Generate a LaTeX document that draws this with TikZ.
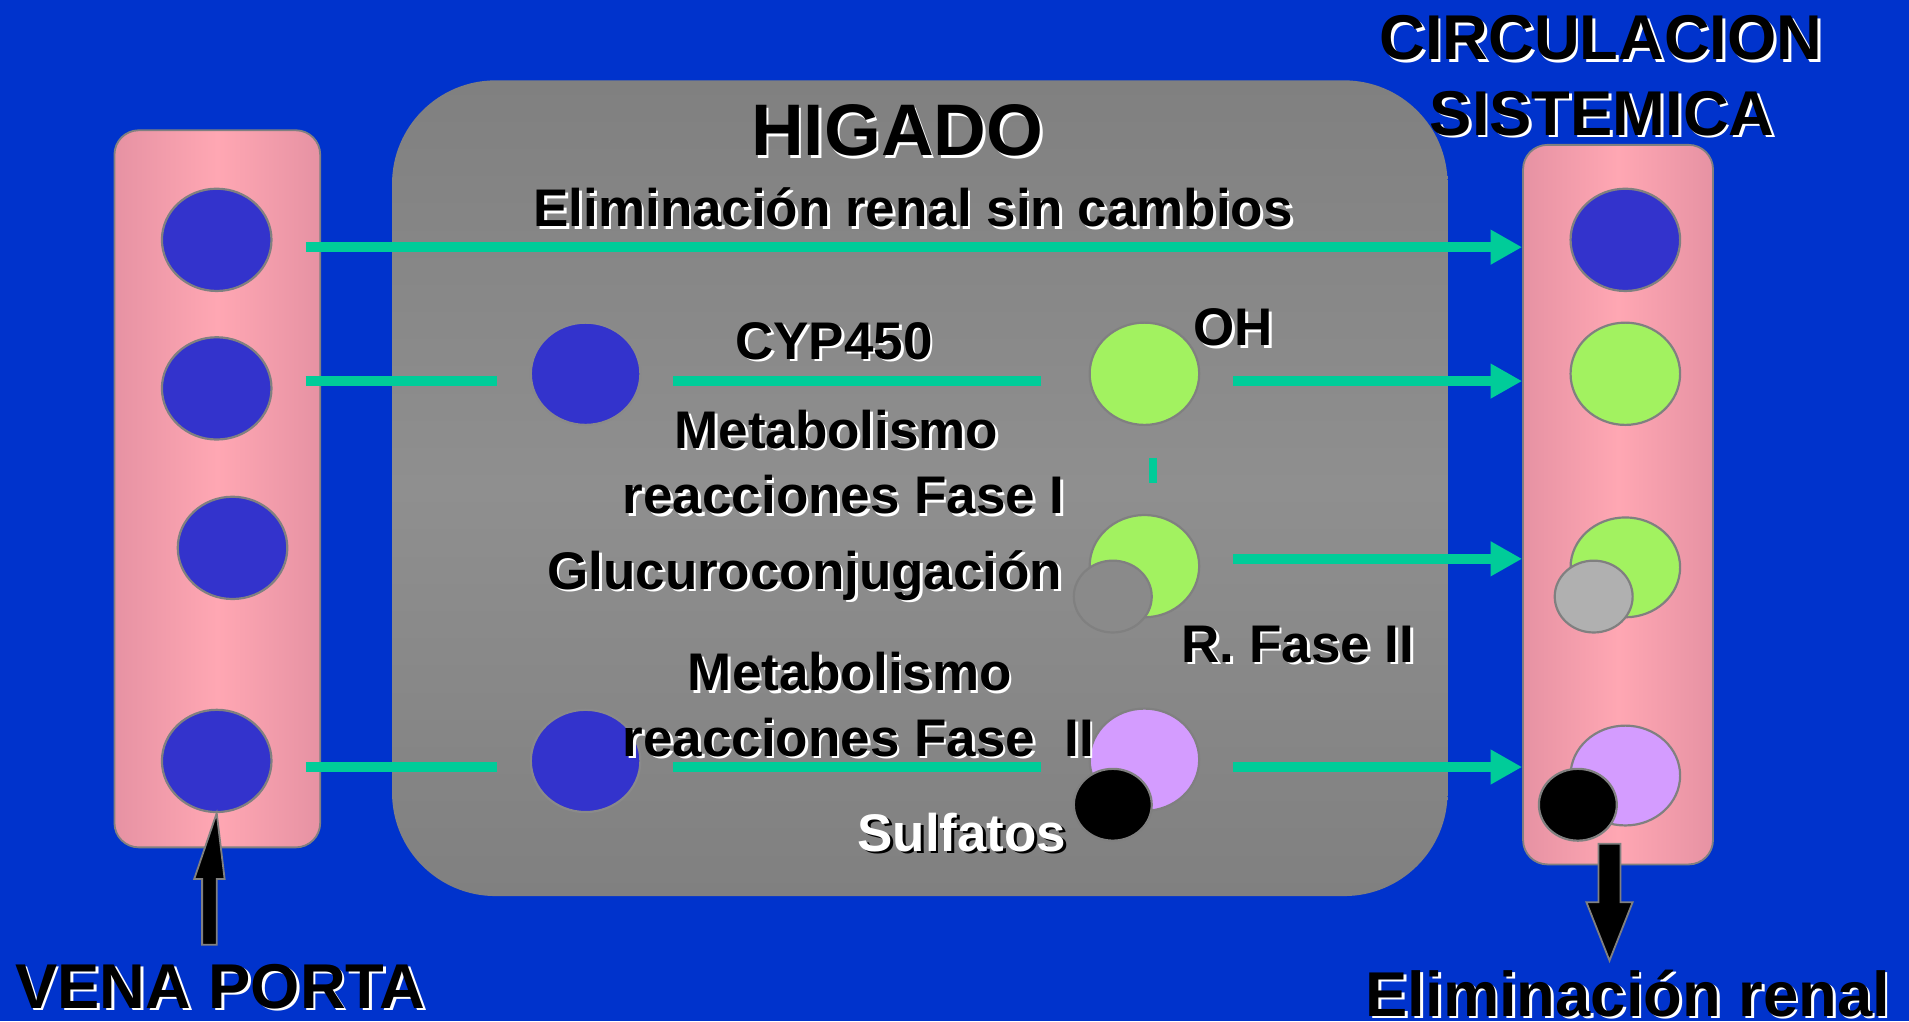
\documentclass[tikz,border=0pt]{standalone}
\usepackage{fontspec}
\setmainfont{Liberation Sans}
\usetikzlibrary{shapes.geometric,arrows.meta}
\definecolor{bgblue}{RGB}{0,51,204}
\definecolor{cblue}{RGB}{51,51,204}
\definecolor{cgreen}{RGB}{162,242,96}
\definecolor{cviolet}{RGB}{212,156,255}
\definecolor{clgray}{RGB}{176,176,176}
\definecolor{cdgray}{RGB}{138,138,138}
\definecolor{flowteal}{RGB}{0,204,153}
\definecolor{pinkedge}{RGB}{230,146,163}
\definecolor{pinkmid}{RGB}{255,167,179}
\definecolor{livgray}{RGB}{128,128,128}
\definecolor{livmid}{RGB}{143,143,143}
\definecolor{olgray}{RGB}{128,128,128}
\newcommand\midf{\fontsize{43.5}{50}\selectfont\bfseries}
\newcommand\bigf{\fontsize{52}{60}\selectfont\bfseries}
\newcommand\higf{\fontsize{60}{70}\selectfont\bfseries}
\newcommand{\stxt}[5][\midf]{%
  \node[txt, font=#1, text=white] at (#3+2.2,#4+2.2) {#5};
  \node[txt, font=#1] (#2) at (#3,#4) {#5};}
\begin{document}
\begin{tikzpicture}[x=1pt,y=-1pt,
  blob/.style={ellipse, draw=olgray, line width=1.8pt, inner sep=0pt, minimum width=90pt, minimum height=84pt},
  smallblob/.style={ellipse, draw=olgray, line width=1.8pt, inner sep=0pt, minimum width=64pt, minimum height=59pt},
  pinkbox/.style={rectangle, rounded corners=20pt, draw=olgray, line width=1.5pt, left color=pinkedge, right color=pinkedge, middle color=pinkmid, inner sep=0pt},
  liverbox/.style={rectangle, rounded corners=85pt, top color=livgray, bottom color=livgray, middle color=livmid, inner sep=0pt},
  flow/.style={draw=flowteal, line width=8.5pt},
  flowarrow/.style={flow, -{Triangle[length=26pt,width=27pt]}},
  bigarrow/.style={fill=black, draw=olgray, line width=1.5pt},
  txt/.style={anchor=base, inner sep=0pt, text=black}
]
\useasboundingbox (0,0) rectangle (1568,839);
\fill[bgblue] (0,0) rectangle (1568,839);

% boxes
\node[pinkbox, minimum width=169pt, minimum height=589pt] (lb) at (178.5,401.5) {};
\node[liverbox, minimum width=867pt, minimum height=670pt] (liv) at (755.5,401) {};
\node[pinkbox, minimum width=156pt, minimum height=591pt] (rb) at (1329,414.5) {};

% left circles
\node[blob, fill=cblue] (l1) at (178,197) {};
\node[blob, fill=cblue] (l2) at (178,319) {};
\node[blob, fill=cblue] (l3) at (191,450) {};
\node[blob, fill=cblue] (l4) at (178,625) {};

% liver circles
\node[blob, fill=cblue, draw=cdgray] (m1) at (481,307) {};
\node[blob, fill=cgreen] (g1) at (940,307) {};
\node[blob, fill=cgreen] (g2) at (940,465) {};
\node[smallblob, fill=cdgray] (q2) at (914,490) {};
\node[blob, fill=cblue, draw=cdgray] (m2) at (481,625) {};
\node[blob, fill=cviolet] (v2) at (940,624) {};
\node[smallblob, fill=black] (k2) at (914,661) {};

% right circles
\node[blob, fill=cblue] (r1) at (1335,197) {};
\node[blob, fill=cgreen] (r2) at (1335,307) {};
\node[blob, fill=cgreen, minimum height=82pt] (r3) at (1335,466) {};
\node[smallblob, fill=clgray] (rq) at (1309,490) {};
\node[blob, fill=cviolet, minimum height=82pt] (r4) at (1335,637) {};
\node[smallblob, fill=black] (rk) at (1296,661) {};

% flow coordinates
\coordinate (a1) at (251,203);
\coordinate (b1) at (rb.west |- a1);
\coordinate (a2) at (251,313);
\coordinate (a2e) at (408,313);
\coordinate (c2) at (553,313);
\coordinate (c2e) at (855,313);
\coordinate (d2) at (1013,313);
\coordinate (b2) at (rb.west |- d2);
\coordinate (e1) at (947,376);
\coordinate (e2) at (947,397);
\coordinate (d3) at (1013,459);
\coordinate (b3) at (rb.west |- d3);
\coordinate (a4) at (251,630);
\coordinate (a4e) at (408,630);
\coordinate (c4) at (553,630);
\coordinate (c4e) at (855,630);
\coordinate (d4) at (1013,630);
\coordinate (b4) at (rb.west |- d4);

\draw[flowarrow] (a1) -- (b1);
\draw[flow] (a2) -- (a2e);
\draw[flow] (c2) -- (c2e);
\draw[flowarrow] (d2) -- (b2);
\draw[draw=flowteal, line width=6pt] (e1) -- (e2);
\draw[flowarrow] (d3) -- (b3);
\draw[flow] (a4) -- (a4e);
\draw[flow] (c4) -- (c4e);
\draw[flowarrow] (d4) -- (b4);

% texts
\stxt[\higf]{higado}{737}{128}{HIGADO}
\stxt{elimsin}{750}{186}{Eliminación renal sin cambios}
\stxt{cyp}{685}{295}{CYP450}
\stxt{oh}{1013}{284}{OH}
\stxt{met1}{687}{368}{Metabolismo}
\stxt{reac1}{693}{422}{reacciones Fase I}
\stxt{gluc}{661}{484}{Glucuroconjugación}
\stxt{rfase}{1066}{544}{R. Fase II}
\stxt{met2}{698}{567}{Metabolismo}
\stxt{reac2}{705}{621}{reacciones Fase\ \ II}
\node[txt, font=\midf] at (792.2,701.2) {Sulfatos};
\node[txt, font=\midf, text=white] (sulf) at (790,699) {Sulfatos};
\stxt[\bigf]{circ}{1315}{49}{CIRCULACION}
\stxt[\bigf]{sist}{1316}{111}{SISTEMICA}
\stxt[\bigf]{vena}{181}{828}{VENA PORTA}
\stxt[\bigf]{elimr}{1337}{834.5}{Eliminación renal}

% black arrows
\draw[bigarrow] (166,776) -- (166,722) -- (159.5,722) -- (l4.south) -- (184.5,722) -- (178,722) -- (178,776) -- cycle;
\coordinate (dt) at (1322,789);
\draw[bigarrow] (1313,693) -- (1331,693) -- (1331,741) -- (1341,741) -- (dt) -- (1303,741) -- (1313,741) -- cycle;
\end{tikzpicture}
\end{document}
